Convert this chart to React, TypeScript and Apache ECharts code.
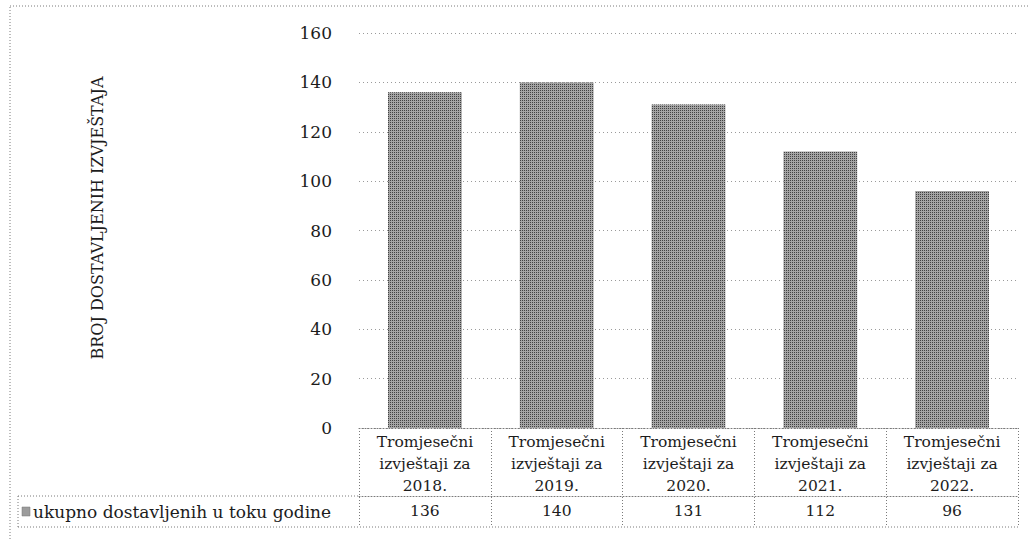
import React, { useEffect, useRef } from "react";
import * as echarts from "echarts";

const categories = [
  "Tromjesečni\nizvještaji za\n2018.",
  "Tromjesečni\nizvještaji za\n2019.",
  "Tromjesečni\nizvještaji za\n2020.",
  "Tromjesečni\nizvještaji za\n2021.",
  "Tromjesečni\nizvještaji za\n2022.",
];
const values = [136, 140, 131, 112, 96];
const seriesName = "ukupno dostavljenih u toku godine";
const yTitle = "BROJ DOSTAVLJENIH IZVJEŠTAJA";
const yMin = 0;
const yMax = 160;
const yStep = 20;

const FONT = "DejaVu Serif";
const INK = "#1c1c1c";
const LINE = "#7a7a7a";

export default function App() {
  const ref = useRef<HTMLDivElement>(null);
  useEffect(() => {
    if (!ref.current) return;
    const chart = echarts.init(ref.current, undefined, { renderer: "svg" });
    const gridLeft = 359;
    const gridRight = 12;
    const axisY = 428;
    const rowY = 496;
    const bottomY = 527;
    const cellLeft = 18;
    const W = 1030;
    const H = 539;
    const dotted = { color: LINE, width: 1, type: [1, 2] as any };
    chart.setOption({
      animation: false,
      aria: { enabled: true, decal: { show: true } },
      grid: { left: gridLeft, right: gridRight, top: 33, bottom: H - axisY, containLabel: false },
      xAxis: [
        {
          type: "category",
          data: categories,
          position: "bottom",
          axisLine: { show: true, lineStyle: dotted },
          axisTick: { show: true, length: bottomY - axisY, alignWithLabel: false, lineStyle: dotted },
          axisLabel: {
            margin: 3,
            fontFamily: FONT,
            fontSize: 15.5,
            lineHeight: 22,
            color: INK,
            interval: 0,
          },
        },
        {
          type: "category",
          data: values.map((v) => String(v)),
          position: "bottom",
          offset: rowY - axisY,
          axisLine: { show: true, lineStyle: dotted },
          axisTick: { show: false },
          axisLabel: { margin: 7, fontFamily: FONT, fontSize: 15.5, color: INK, interval: 0 },
        },
      ],
      yAxis: {
        type: "value",
        min: yMin,
        max: yMax,
        interval: yStep,
        axisLine: { show: false },
        axisTick: { show: false },
        axisLabel: { margin: 27, fontFamily: FONT, fontSize: 17, color: INK },
        splitLine: { show: true, lineStyle: { color: "#9a9a9a", width: 1, type: [1, 3] } },
      },
      series: [
        {
          type: "bar",
          name: seriesName,
          data: values,
          xAxisIndex: 0,
          barWidth: "56%",
          itemStyle: {
            color: "#a4a4a4",
            decal: {
              symbol: "rect",
              symbolSize: 1,
              color: "rgba(40,40,40,0.8)",
              dashArrayX: [1, 1],
              dashArrayY: [1, 1],
              rotation: 0,
            },
          },
        },
      ],
      graphic: [
        {
          type: "rect",
          silent: true,
          shape: { x: 10, y: 6, width: W + 20, height: H + 20 },
          style: { fill: "none", stroke: LINE, lineWidth: 1, lineDash: [1, 2] },
        },
        {
          type: "line",
          silent: true,
          shape: { x1: cellLeft, y1: rowY, x2: gridLeft, y2: rowY },
          style: { stroke: LINE, lineWidth: 1, lineDash: [1, 2] },
        },
        {
          type: "line",
          silent: true,
          shape: { x1: cellLeft, y1: bottomY, x2: W - gridRight, y2: bottomY },
          style: { stroke: LINE, lineWidth: 1, lineDash: [1, 2] },
        },
        {
          type: "line",
          silent: true,
          shape: { x1: cellLeft, y1: rowY, x2: cellLeft, y2: bottomY },
          style: { stroke: LINE, lineWidth: 1, lineDash: [1, 2] },
        },
        {
          type: "rect",
          silent: true,
          shape: { x: 22, y: 507, width: 8, height: 9 },
          style: { fill: "#9c9c9c", stroke: "#777", lineWidth: 0.5 },
        },
        {
          type: "text",
          silent: true,
          x: 33,
          y: 512,
          style: {
            text: seriesName,
            fontFamily: FONT,
            fontSize: 17,
            fill: INK,
            align: "left",
            verticalAlign: "middle",
          },
        },
        {
          type: "text",
          silent: true,
          x: 97,
          y: 218,
          rotation: Math.PI / 2,
          style: {
            text: yTitle,
            fontFamily: FONT,
            fontSize: 16,
            fill: INK,
            align: "center",
            verticalAlign: "middle",
          },
        },
      ],
    });
    return () => chart.dispose();
  }, []);
  return (
    <div
      ref={ref}
      style={{ position: "absolute", left: 0, top: 0, width: 1030, height: 539, background: "#fff" }}
    />
  );
}
